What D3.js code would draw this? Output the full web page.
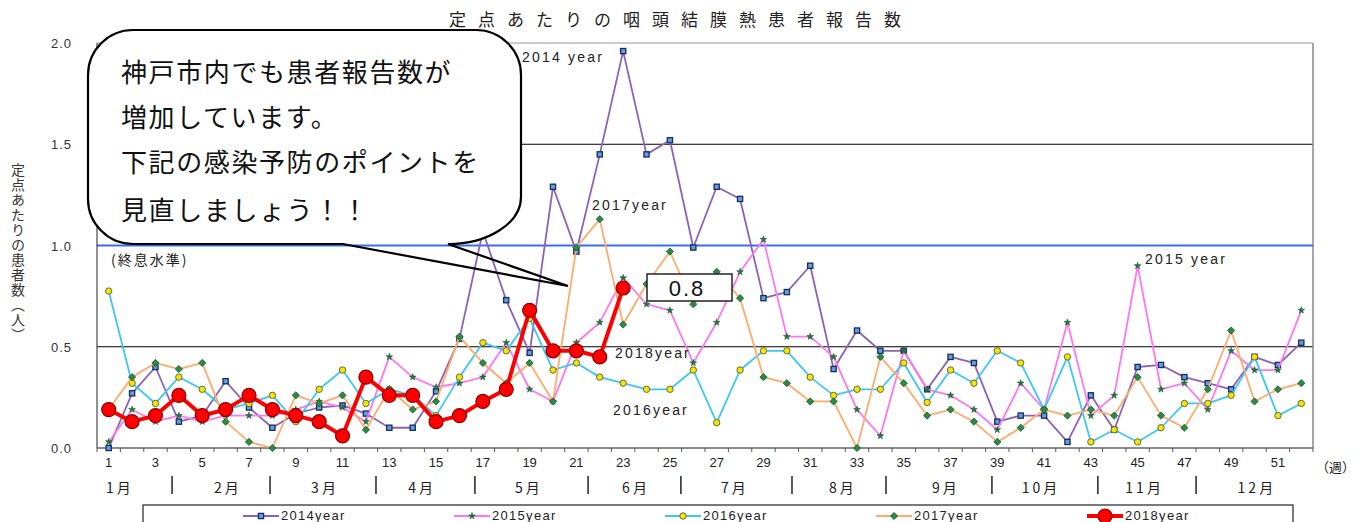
<!DOCTYPE html>
<html><head><meta charset="utf-8">
<script src="https://cdn.jsdelivr.net/npm/d3@7"></script>
<style>
html,body{margin:0;padding:0;background:#fff;}
svg{display:block;font-family:"Liberation Sans","DejaVu Sans",sans-serif;}
.jp{font-family:"Noto Sans CJK JP","Noto Sans",sans-serif;}
</style></head>
<body><svg id="c" width="1361" height="522"></svg>
<script>
// ---- data ----
const weeks = [1,2,3,4,5,6,7,8,9,10,11,12,13,14,15,16,17,18,19,20,21,22,23,24,25,26,
  27,28,29,30,31,32,33,34,35,36,37,38,39,40,41,42,43,44,45,46,47,48,49,50,51,52];
const y2014 = [0.00,0.27,0.40,0.13,0.16,0.33,0.20,0.10,0.17,0.20,0.21,0.17,0.10,0.10,0.28,0.54,1.07,0.73,0.47,1.29,
  0.97,1.45,1.96,1.45,1.52,0.99,1.29,1.23,0.74,0.77,0.90,0.39,0.58,0.48,0.48,0.29,0.45,0.42,0.13,0.16,
  0.16,0.03,0.26,0.09,0.40,0.41,0.35,0.32,0.29,0.45,0.41,0.52];
const y2015 = [0.03,0.19,0.13,0.16,0.13,0.16,0.16,0.16,0.19,0.23,0.20,0.13,0.45,0.35,0.30,0.32,0.35,0.52,0.29,0.23,
  0.52,0.62,0.84,0.71,0.68,0.42,0.62,0.87,1.03,0.55,0.55,0.45,0.19,0.06,0.48,0.29,0.26,0.19,0.09,0.32,
  0.19,0.62,0.16,0.26,0.90,0.29,0.32,0.19,0.48,0.385,0.385,0.68];
const y2016 = [0.775,0.32,0.22,0.35,0.29,0.19,0.22,0.26,0.13,0.29,0.385,0.22,0.29,0.26,0.16,0.35,0.52,0.48,0.64,0.385,
  0.42,0.35,0.32,0.29,0.29,0.385,0.125,0.385,0.48,0.48,0.35,0.26,0.29,0.29,0.42,0.225,0.385,0.32,0.48,0.42,
  0.19,0.45,0.03,0.09,0.03,0.10,0.22,0.22,0.26,0.45,0.16,0.22];
const y2017 = [0.19,0.35,0.42,0.39,0.42,0.13,0.03,0.00,0.26,0.22,0.26,0.09,0.29,0.19,0.23,0.55,0.42,0.32,0.42,0.23,
  0.99,1.13,0.61,0.81,0.97,0.71,0.87,0.74,0.35,0.32,0.23,0.23,0.00,0.45,0.32,0.16,0.19,0.13,0.03,0.10,
  0.19,0.16,0.19,0.16,0.35,0.16,0.10,0.29,0.58,0.23,0.29,0.32];
const y2018 = [0.19,0.13,0.16,0.26,0.16,0.19,0.26,0.19,0.16,0.13,0.06,0.35,0.26,0.26,0.13,0.16,0.23,0.29,0.68,0.48,
  0.48,0.45,0.79];
const seriesNames = ["2014year","2015year","2016year","2017year","2018year"];
const yTicks = [0.0,0.5,1.0,1.5,2.0];
const xTickLabels = [1,3,5,7,9,11,13,15,17,19,21,23,25,27,29,31,33,35,37,39,41,43,45,47,49,51];
const months = ["1月","2月","3月","4月","5月","6月","7月","8月","9月","10月","11月","12月"];
const monthCenters = [1.48,6.1,10.25,14.4,18.97,23.55,27.78,32.4,36.8,40.87,45.3,50.1];
const monthBounds = [3.71,7.9,12.43,16.66,21.5,25.47,30.22,34.24,38.77,43.3,47.5];
const title = "定点あたりの咽頭結膜熱患者報告数";
const yTitle = "定点あたりの患者数（人）";
const bubbleLines = ["神戸市内でも患者報告数が","増加しています。","下記の感染予防のポイントを","見直しましょう！！"];
const latestLabel = "0.8";

// ---- scales ----
const svg = d3.select("#c");
svg.append("rect").attr("width",1361).attr("height",522).attr("fill","#fff");
const x = d3.scaleLinear().domain([0.5,52.5]).range([97,1313]);
const y = d3.scaleLinear().domain([0,2]).range([448,43]);
const X0 = x.range()[0], X1 = x.range()[1];

// title
svg.append("text").attr("class","jp").attr("x",449).attr("y",26)
  .attr("font-size",17).attr("letter-spacing",12).attr("fill","#222").text(title);

// grid
const g = svg.append("g");
[0.5,1.5].forEach(v=>g.append("line").attr("x1",X0).attr("x2",X1).attr("y1",y(v)).attr("y2",y(v))
  .attr("stroke","#000").attr("stroke-width",1));
g.append("line").attr("x1",X0).attr("x2",X1).attr("y1",y(2)).attr("y2",y(2)).attr("stroke","#999");
g.append("line").attr("x1",X1).attr("x2",X1).attr("y1",y(2)).attr("y2",y(0)).attr("stroke","#888").attr("stroke-width",1.5);
g.append("line").attr("x1",X0).attr("x2",X1).attr("y1",y(1)).attr("y2",y(1))
  .attr("stroke","#3b6cf0").attr("stroke-width",2);

// y axis
g.append("line").attr("x1",X0).attr("x2",X0).attr("y1",y(2)).attr("y2",y(0)).attr("stroke","#222");
yTicks.forEach(v=>{
  svg.append("text").attr("x",72).attr("y",y(v)+5).attr("text-anchor","end")
    .attr("font-size",13).attr("letter-spacing",1).attr("fill","#333").text(v.toFixed(1));
});
// y title vertical
svg.append("text").attr("class","jp").attr("x",18).attr("y",163)
  .attr("font-size",14).attr("fill","#333").attr("letter-spacing",1)
  .style("writing-mode","vertical-rl").style("text-orientation","upright").text(yTitle);

// x axis
g.append("line").attr("x1",X0).attr("x2",X1).attr("y1",y(0)).attr("y2",y(0)).attr("stroke","#666").attr("stroke-width",1.5);
weeks.concat([53]).forEach(w=>{
  g.append("line").attr("x1",x(w-0.5)).attr("x2",x(w-0.5)).attr("y1",y(0)).attr("y2",y(0)+4).attr("stroke","#555");
});
xTickLabels.forEach(w=>svg.append("text").attr("x",x(w)).attr("y",467).attr("text-anchor","middle")
  .attr("font-size",13).attr("fill","#222").text(w));
svg.append("text").attr("class","jp").attr("x",1316).attr("y",472).attr("font-size",13).attr("fill","#222").text("（週）");
months.forEach((m,i)=>svg.append("text").attr("class","jp").attr("x",x(monthCenters[i])).attr("y",493)
  .attr("text-anchor","middle").attr("font-size",14).attr("letter-spacing",3).attr("fill","#222").text(m));
monthBounds.forEach(b=>svg.append("line").attr("x1",x(b)).attr("x2",x(b)).attr("y1",476).attr("y2",494)
  .attr("stroke","#222").attr("stroke-width",1.5));

// ---- series ----
const styles = [
  {data:y2014, color:"#8a63b8", w:1.8, mk:"square"},
  {data:y2015, color:"#ff77f0", w:1.8, mk:"star"},
  {data:y2016, color:"#3cc8f4", w:1.8, mk:"circle"},
  {data:y2017, color:"#ffab6b", w:1.8, mk:"diamond"},
  {data:y2018, color:"#ff0000", w:4, mk:"big"}
];
const line = d3.line().x((d,i)=>x(weeks[i])).y(d=>y(d));
function drawMarker(sel, mk){
  if(mk==="square") sel.append("rect").attr("x",-2.6).attr("y",-2.6).attr("width",5.2).attr("height",5.2)
    .attr("fill","#5da2e0").attr("stroke","#1c2a5a").attr("stroke-width",1.3);
  else if(mk==="star") sel.append("path").attr("d",d3.symbol(d3.symbolStar,14)())
    .attr("fill","#1b7a3e").attr("stroke","#1b5a2e").attr("stroke-width",0.6);
  else if(mk==="circle") sel.append("circle").attr("r",3.2).attr("fill","#f3e600").attr("stroke","#6b6b3b").attr("stroke-width",1);
  else if(mk==="diamond") sel.append("path").attr("d","M0,-3.6L3.6,0L0,3.6L-3.6,0Z")
    .attr("fill","#2a8a4a").attr("stroke","#145a2a").attr("stroke-width",0.8);
  else if(mk==="big") sel.append("circle").attr("r",7).attr("fill","#ff0000").attr("stroke","#8a0000").attr("stroke-width",1.2);
}
const sg = svg.append("g");
styles.forEach(s=>{
  sg.append("path").datum(s.data).attr("d",line).attr("fill","none")
    .attr("stroke",s.color).attr("stroke-width",s.w).attr("stroke-linejoin","round");
  s.data.forEach((v,i)=>{
    const m = sg.append("g").attr("transform",`translate(${x(weeks[i])},${y(v)})`);
    drawMarker(m, s.mk);
  });
});

// annotations
const ann = [["2014 year",522,62],["2017year",592,210],["2015 year",1145,264],["2018year",615,358],["2016year",613,415]];
ann.forEach(a=>svg.append("text").attr("x",a[1]).attr("y",a[2]).attr("font-size",14)
  .attr("letter-spacing",2.2).attr("fill","#222").text(a[0]));
svg.append("text").attr("class","jp").attr("x",111).attr("y",265).attr("font-size",14)
  .attr("letter-spacing",2).attr("fill","#222").text("(終息水準)");

// 0.8 box
svg.append("rect").attr("x",647).attr("y",274).attr("width",85).attr("height",27)
  .attr("fill","#fff").attr("stroke","#222").attr("stroke-width",1.5);
svg.append("text").attr("x",687).attr("y",296).attr("text-anchor","middle").attr("font-size",22)
  .attr("letter-spacing",2).attr("fill","#111").text(latestLabel);

// speech bubble
const L=88,T=30,R=521,B=244, r=45;
const body = `M343,${B} L${L+r},${B} A${r},${r} 0 0 1 ${L},${B-r} L${L},${T+r} A${r},${r} 0 0 1 ${L+r},${T}
  L${R-r},${T} A${r},${r} 0 0 1 ${R},${T+r} L${R},${B-47} A73,47 0 0 1 448,${B} Z`;
svg.append("path").attr("d",body).attr("fill","#fff").attr("stroke","none");
const outline = `M343,${B} L${L+r},${B} A${r},${r} 0 0 1 ${L},${B-r} L${L},${T+r} A${r},${r} 0 0 1 ${L+r},${T}
  L${R-r},${T} A${r},${r} 0 0 1 ${R},${T+r} L${R},${B-47} A73,47 0 0 1 448,${B} L568,286 Z`;
svg.append("path").attr("d",outline).attr("fill","none").attr("stroke","#000").attr("stroke-width",2.2)
  .attr("stroke-linejoin","miter");
const by = [82,127,172,220];
bubbleLines.forEach((t,i)=>svg.append("text").attr("class","jp").attr("x",121).attr("y",by[i])
  .attr("font-size",26).attr("letter-spacing",1.6).attr("fill","#111").text(t));

// legend
svg.append("rect").attr("x",143).attr("y",505).attr("width",1150).attr("height",30)
  .attr("fill","#fff").attr("stroke","#222").attr("stroke-width",1.2);
seriesNames.forEach((n,i)=>{
  const lx = 243 + i*211, ly = 516;
  const s = styles[i];
  svg.append("line").attr("x1",lx).attr("x2",lx+36).attr("y1",ly).attr("y2",ly)
    .attr("stroke",s.color).attr("stroke-width",s.w);
  drawMarker(svg.append("g").attr("transform",`translate(${lx+18},${ly})`), s.mk);
  svg.append("text").attr("x",lx+38).attr("y",520).attr("font-size",13).attr("letter-spacing",1.3)
    .attr("fill","#222").text(n);
});
</script>
</body></html>
